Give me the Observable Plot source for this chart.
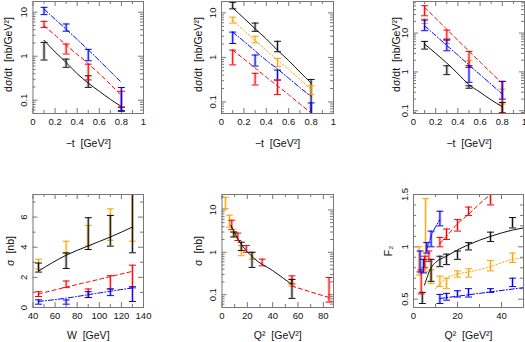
<!DOCTYPE html>
<html><head><meta charset="utf-8">
<script src="https://cdn.jsdelivr.net/npm/d3@7"></script>
<script src="https://cdn.jsdelivr.net/npm/@observablehq/plot@0.6"></script>
<style>
body{margin:0;background:#fff}
#c{position:relative;width:525px;height:342px;overflow:hidden}
#c svg{position:absolute;overflow:visible}
</style></head><body><div id="c"></div>
<script>
// ---------- data ----------
const tVals = [0.1, 0.3, 0.5, 0.8];
const fitT = [0.1, 0.2, 0.3, 0.4, 0.5, 0.6, 0.7, 0.8];
// panel 1
const p1BlackLo = [0.82, 0.56, 0.196, 0.056], p1BlackHi = [2.06, 0.86, 0.36, 0.069];
const p1RedLo = [4.5, 1.12, 0.29, 0.07], p1RedHi = [6.2, 1.89, 0.66, 0.16];
const p1BlueLo = [8.8, 3.7, 0.79, 0.058], p1BlueHi = [12.9, 5.4, 1.43, 0.195];
const p1BlackFit = [2.3, 1.25, 0.72, 0.4, 0.245, 0.16, 0.105, 0.072];
const p1RedFit = [4.9, 3.0, 1.8, 1.1, 0.68, 0.4, 0.23, 0.126];
const p1BlueFit = [11.8, 6.9, 4.1, 2.4, 1.4, 0.8, 0.45, 0.254];
// panel 2
const p2BlackLo = [12.3, 3.85, 1.34, 0.04], p2BlackHi = [17.3, 5.9, 2.3, 0.32];
const p2OrangeLo = [5.9, 2.12, 0.62, 0.146], p2OrangeHi = [8.0, 2.98, 0.95, 0.23];
const p2BlueLo = [2.05, 0.64, 0.31, 0.04], p2BlueHi = [3.7, 1.13, 0.52, 0.095];
const p2RedT = [0.1, 0.3, 0.5];
const p2RedLo = [0.68, 0.24, 0.146], p2RedHi = [1.46, 0.44, 0.31];
const p2BlackFit = [12.9, 7.6, 4.4, 2.6, 1.45, 0.85, 0.47, 0.264];
const p2OrangeFit = [6.76, 4.0, 2.4, 1.45, 0.87, 0.53, 0.32, 0.194];
const p2BlueFit = [3.7, 2.3, 1.4, 0.86, 0.55, 0.34, 0.21, 0.134];
const p2RedFit = [1.46, 0.92, 0.58, 0.36, 0.23, 0.145, 0.09, 0.057];
// panel 3
const p3RedLo = [27.9, 7.0, 1.3, 0.09], p3RedHi = [50.6, 11.9, 3.37, 0.57];
const p3OrangeLo = [17.7, 5.4, 1.3, 0.149], p3OrangeHi = [23, 7.0, 1.94, 0.36];
const p3BlueLo = [11.5, 3.5, 0.54, 0.2], p3BlueHi = [21.6, 6.6, 1.44, 0.57];
const p3BlackLo = [3.87, 0.85, 0.38, 0.082], p3BlackHi = [6.1, 1.44, 0.44, 0.164];
const p3RedFit = [45.8, 24, 12.5, 6.5, 3.4, 1.8, 0.95, 0.51];
const p3BlueFit = [15.4, 8.6, 4.8, 2.7, 1.5, 0.85, 0.48, 0.27];
const p3BlackFit = [5.2, 3.0, 1.69, 0.9, 0.47, 0.3, 0.19, 0.127];
// panel 4
const wVals = [45, 70, 90, 110, 130];
const p4BlackLo = [2.35, 2.59, 3.85, 4.07, 3.63], p4BlackHi = [2.95, 3.63, 5.96, 6.11, 8];
const p4OrangeLo = [2.55, 3.58, 4.09, 4.46, 4.4], p4OrangeHi = [3.2, 4.4, 5.45, 6.55, 8];
const p4RedLo = [0.73, 1.32, 0.66, 1.23, 1.3], p4RedHi = [1.05, 1.76, 1.23, 2.11, 2.81];
const p4BlueLo = [0.22, 0.22, 0.66, 0.79, 0.4], p4BlueHi = [0.51, 0.5, 1.05, 1.23, 1.38];
const p4BlackFit = [2.42, 3.47, 4.09, 4.68, 5.34];
const p4RedFit = [0.9, 1.35, 1.7, 2.05, 2.4];
const p4BlueFit = [0.4, 0.62, 0.85, 1.08, 1.3];
// panel 5
const p5OrangeQ = [2.7, 5.9, 9.3, 15.2, 23.7, 55.2];
const p5OrangeLo = [10.7, 3.9, 2.3, 0.83, 0.69, 0.16], p5OrangeHi = [19.7, 7.5, 3.0, 1.44, 1.0, 0.23];
const p5RedQ = [7.7, 12.5, 19.2, 31.7, 55.2, 84.5];
const p5RedLo = [3.4, 1.9, 1.0, 0.48, 0.18, 0.067], p5RedHi = [5.7, 2.83, 1.44, 0.69, 0.278, 0.254];
const p5BlackQ = [9.3, 15.2, 23.7, 55.2];
const p5BlackLo = [2.3, 1.1, 0.44, 0.082], p5BlackHi = [3.0, 1.73, 1.0, 0.23];
const p5BlackFitQ = [7, 15, 25, 40, 55];
const p5BlackFit = [4.3, 1.58, 0.73, 0.37, 0.176];
const p5RedFitQ = [55, 85];
const p5RedFit = [0.16, 0.085];
// panel 6
const p6RedQ = [3.5, 5, 7, 12, 15, 20, 25, 35];
const p6RedLo = [0.55, 0.8, 0.86, 1.0, 1.07, 1.15, 1.3, 1.4], p6RedHi = [0.78, 0.91, 0.96, 1.09, 1.17, 1.26, 1.38, 1.5];
const p6BlackQ = [4, 8, 12, 15, 20, 25, 35, 45];
const p6BlackLo = [0.458, 0.67, 0.81, 0.83, 0.88, 0.97, 1.05, 1.18], p6BlackHi = [0.565, 0.88, 0.91, 0.93, 0.96, 1.04, 1.14, 1.28];
const p6OrangeQ = [2.5, 5.5, 8, 12, 15, 20, 25, 35, 45];
const p6OrangeLo = [0.73, 0.76, 0.65, 0.62, 0.6, 0.71, 0.71, 0.77, 0.85], p6OrangeHi = [1.0, 1.46, 0.78, 0.72, 0.7, 0.77, 0.79, 0.87, 0.94];
const p6BlueAQ = [3, 4.5, 6, 8, 12];
const p6BlueALo = [0.76, 0.75, 0.94, 1.0, 1.2], p6BlueAHi = [0.96, 0.88, 1.04, 1.15, 1.34];
const p6BlueBQ = [12, 15, 20, 25, 35, 45];
const p6BlueBLo = [0.458, 0.49, 0.52, 0.52, 0.565, 0.62], p6BlueBHi = [0.545, 0.555, 0.58, 0.6, 0.6, 0.7];
const p6RedFitQ = [12, 15, 20, 25, 30, 35];
const p6RedFit = [1.03, 1.10, 1.22, 1.31, 1.41, 1.5];
const p6BlackFitQ = [5, 8, 10, 15, 20, 25, 35, 45, 50];
const p6BlackFit = [0.635, 0.8, 0.85, 0.91, 0.97, 1.02, 1.1, 1.16, 1.18];
const p6OrangeFitQ = [10, 15, 20, 25, 35, 45, 50];
const p6OrangeFit = [0.6, 0.7, 0.74, 0.76, 0.81, 0.88, 0.89];
const p6BlueAFitQ = [6, 8, 12];
const p6BlueAFit = [0.98, 1.1, 1.26];
const p6BlueBFitQ = [12, 50];
const p6BlueBFit = [0.506, 0.61];

// tick labels
const tTicks = [0, 0.2, 0.4, 0.6, 0.8, 1];
const tMinor = [0.1, 0.3, 0.5, 0.7, 0.9];
const logMajor = [0.1, 1, 10];
const wTicks = [40, 60, 80, 100, 120, 140];
const wMinor = [50, 70, 90, 110, 130];
const sigTicks = [0, 2, 4, 6];
const sigMinor = [1, 3, 5, 7];
const q5Ticks = [0, 20, 40, 60, 80];
const q5Minor = [10, 30, 50, 70];
const q6Ticks = [0, 20, 40];
const q6Minor = [10, 30, 50];
const f2Ticks = [0.5, 1, 1.5];
const f2Minor = [0.6, 0.7, 0.8, 0.9, 1.1, 1.2, 1.3, 1.4];

const COL = {black: "#111", red: "#ff0000", blue: "#0000ff", orange: "#ffa500"};
const DASH = {solid: null, dashed: "4,3", dashdot: "5,2,1,2", dotted: "1.5,2"};
const FONT = "'Liberation Sans', Arial, Helvetica, sans-serif";
const TICKC = "#777";

function logMinor(lo, hi) {
  const out = [];
  for (let e = Math.floor(Math.log10(lo)); e <= Math.ceil(Math.log10(hi)); e++)
    for (const k of [2,3,4,5,6,7,8,9]) { const v = k * Math.pow(10, e); if (v > lo && v < hi) out.push(v); }
  return out;
}

const cap = {draw(ctx, size) { const r = Math.sqrt(size / Math.PI); ctx.moveTo(-r, 0); ctx.lineTo(r, 0); }};

function panel(cfg) {
  const W = 175, H = 171;
  const m = cfg.m;
  const iw = W - m.l - m.r, ih = H - m.t - m.b;
  const marks = [];
  const xMinor = cfg.x.minor, yMinor = cfg.y.type === "log" ? logMinor(cfg.y.domain[0], cfg.y.domain[1]) : cfg.y.minor;
  for (const [arr, L] of [[cfg.x.ticks, 5], [xMinor, 3]]) {
    marks.push(Plot.tickX(arr, {x: d => d, insetTop: ih - L, stroke: TICKC}));
    marks.push(Plot.tickX(arr, {x: d => d, insetBottom: ih - L, stroke: TICKC}));
  }
  for (const [arr, L] of [[cfg.y.ticks, 5], [yMinor, 3]]) {
    marks.push(Plot.tickY(arr, {y: d => d, insetRight: iw - L, stroke: TICKC}));
    marks.push(Plot.tickY(arr, {y: d => d, insetLeft: iw - L, stroke: TICKC}));
  }
  for (const s of cfg.series) {
    const idx = d3.range(s.x.length);
    const X = i => s.x[i];
    marks.push(Plot.ruleX(idx, {x: X, y1: i => s.lo[i], y2: i => s.hi[i], stroke: COL[s.c], strokeWidth: 3, strokeOpacity: 0.25, clip: true}));
    marks.push(Plot.ruleX(idx, {x: X, y1: i => s.lo[i], y2: i => s.hi[i], stroke: COL[s.c], strokeWidth: 1, clip: true}));
    marks.push(Plot.dot(idx, {x: X, y: i => s.lo[i], symbol: cap, r: 3.5, stroke: COL[s.c], fill: "none", strokeWidth: 1, clip: true}));
    marks.push(Plot.dot(idx, {x: X, y: i => s.hi[i], symbol: cap, r: 3.5, stroke: COL[s.c], fill: "none", strokeWidth: 1, clip: true}));
  }
  for (const f of cfg.fits) {
    const idx = d3.range(f.x.length);
    marks.push(Plot.line(idx, {x: i => f.x[i], y: i => f.y[i], stroke: COL[f.c], strokeDasharray: DASH[f.d], strokeWidth: 1, curve: "monotone-x", clip: true}));
  }
  marks.push(Plot.frame({stroke: TICKC, strokeWidth: 1}));
  marks.push(Plot.axisX(cfg.x.ticks, {tickSize: 0, tickPadding: 5, tickFormat: d => String(d), label: null, fontSize: 9.5}));
  marks.push(Plot.axisY(cfg.y.ticks, {tickSize: 0, tickPadding: cfg.yPad ?? 6, tickRotate: -90, tickFormat: d => String(d), label: null, fontSize: 9.5}));
  marks.push(Plot.text([cfg.xLabel], {text: d => d, frameAnchor: "bottom", dy: cfg.xLabelDy ?? 30, fontSize: 10.5, textAnchor: "middle", lineAnchor: "middle"}));
  marks.push(Plot.text([cfg.yLabel], {text: d => d, frameAnchor: "left", dx: cfg.yLabelDx, dy: cfg.yLabelDy ?? 0, rotate: -90, fontSize: 10.5, textAnchor: "middle", lineAnchor: "middle"}));
  const svg = Plot.plot({
    width: W, height: H,
    marginLeft: m.l, marginRight: m.r, marginTop: m.t, marginBottom: m.b,
    x: {type: "linear", domain: cfg.x.domain, axis: null},
    y: {type: cfg.y.type, domain: cfg.y.domain, axis: null},
    style: {fontFamily: FONT, fontSize: "9.5px", color: "#111", background: "transparent"},
    marks
  });
  svg.style.left = cfg.left + "px";
  svg.style.top = cfg.top + "px";
  document.getElementById("c").appendChild(svg);
}

const dsdtLabel = "dσ/dt  [nb/GeV²]";
const tLabel = "−t  [GeV²]";

panel({left: 0, top: 0, m: {l: 32.5, r: 32, t: 1, b: 58},
  x: {domain: [0, 1], ticks: tTicks, minor: tMinor},
  y: {type: "log", domain: [0.05, 17.5], ticks: logMajor},
  xLabel: tLabel, yLabel: dsdtLabel, yLabelDx: -24.5, yLabelDy: -3,
  series: [
    {x: tVals, lo: p1BlackLo, hi: p1BlackHi, c: "black"},
    {x: tVals, lo: p1RedLo, hi: p1RedHi, c: "red"},
    {x: tVals, lo: p1BlueLo, hi: p1BlueHi, c: "blue"}],
  fits: [
    {x: fitT, y: p1BlackFit, c: "black", d: "solid"},
    {x: fitT, y: p1RedFit, c: "red", d: "dashed"},
    {x: fitT, y: p1BlueFit, c: "blue", d: "dashdot"}]
});
panel({left: 175, top: 0, m: {l: 46, r: 17, t: 1, b: 58},
  x: {domain: [0, 1], ticks: tTicks, minor: tMinor},
  y: {type: "log", domain: [0.055, 18], ticks: logMajor},
  xLabel: tLabel, yLabel: dsdtLabel, yLabelDx: -23, yLabelDy: -3,
  series: [
    {x: tVals, lo: p2BlackLo, hi: p2BlackHi, c: "black"},
    {x: tVals, lo: p2OrangeLo, hi: p2OrangeHi, c: "orange"},
    {x: tVals, lo: p2BlueLo, hi: p2BlueHi, c: "blue"},
    {x: p2RedT, lo: p2RedLo, hi: p2RedHi, c: "red"}],
  fits: [
    {x: fitT, y: p2BlackFit, c: "black", d: "solid"},
    {x: fitT, y: p2OrangeFit, c: "orange", d: "dotted"},
    {x: fitT, y: p2BlueFit, c: "blue", d: "dashdot"},
    {x: fitT, y: p2RedFit, c: "red", d: "dashed"}]
});
panel({left: 350, top: 0, m: {l: 63, r: 1, t: 1, b: 58},
  x: {domain: [0, 1], ticks: tTicks, minor: tMinor},
  y: {type: "log", domain: [0.085, 65], ticks: logMajor},
  xLabel: tLabel, yLabel: dsdtLabel, yLabelDx: -17, yLabelDy: -3,
  series: [
    {x: tVals, lo: p3OrangeLo, hi: p3OrangeHi, c: "orange"},
    {x: tVals, lo: p3RedLo, hi: p3RedHi, c: "red"},
    {x: tVals, lo: p3BlueLo, hi: p3BlueHi, c: "blue"},
    {x: tVals, lo: p3BlackLo, hi: p3BlackHi, c: "black"}],
  fits: [
    {x: fitT, y: p3RedFit, c: "red", d: "dashed"},
    {x: fitT, y: p3BlueFit, c: "blue", d: "dashdot"},
    {x: fitT, y: p3BlackFit, c: "black", d: "solid"}]
});
panel({left: 0, top: 171, m: {l: 32.5, r: 32, t: 23, b: 35},
  x: {domain: [40, 140], ticks: wTicks, minor: wMinor},
  y: {type: "linear", domain: [0, 7.5], ticks: sigTicks, minor: sigMinor},
  xLabel: "W  [GeV]", xLabelDy: 28, yLabel: "σ  [nb]", yLabelDx: -22.5,
  series: [
    {x: wVals, lo: p4OrangeLo, hi: p4OrangeHi, c: "orange"},
    {x: wVals, lo: p4BlackLo, hi: p4BlackHi, c: "black"},
    {x: wVals, lo: p4RedLo, hi: p4RedHi, c: "red"},
    {x: wVals, lo: p4BlueLo, hi: p4BlueHi, c: "blue"}],
  fits: [
    {x: wVals, y: p4BlackFit, c: "black", d: "solid"},
    {x: wVals, y: p4RedFit, c: "red", d: "dashed"},
    {x: wVals, y: p4BlueFit, c: "blue", d: "dashdot"}]
});
panel({left: 175, top: 171, m: {l: 46.5, r: 17, t: 23, b: 35},
  x: {domain: [0, 88], ticks: q5Ticks, minor: q5Minor},
  y: {type: "log", domain: [0.05, 23], ticks: logMajor},
  xLabel: "Q²  [GeV²]", xLabelDy: 28, yLabel: "σ  [nb]", yLabelDx: -23.5,
  series: [
    {x: p5OrangeQ, lo: p5OrangeLo, hi: p5OrangeHi, c: "orange"},
    {x: p5RedQ, lo: p5RedLo, hi: p5RedHi, c: "red"},
    {x: p5BlackQ, lo: p5BlackLo, hi: p5BlackHi, c: "black"}],
  fits: [
    {x: p5RedFitQ, y: p5RedFit, c: "red", d: "dashed"},
    {x: p5BlackFitQ, y: p5BlackFit, c: "black", d: "solid"}]
});
panel({left: 350, top: 171, m: {l: 63, r: 2, t: 23, b: 35},
  x: {domain: [0, 50], ticks: q6Ticks, minor: q6Minor},
  y: {type: "linear", domain: [0.42, 1.5], ticks: f2Ticks, minor: f2Minor},
  xLabel: "Q²  [GeV²]", xLabelDy: 28, yLabel: "F₂", yLabelDx: -25,
  series: [
    {x: p6OrangeQ, lo: p6OrangeLo, hi: p6OrangeHi, c: "orange"},
    {x: p6BlackQ, lo: p6BlackLo, hi: p6BlackHi, c: "black"},
    {x: p6RedQ, lo: p6RedLo, hi: p6RedHi, c: "red"},
    {x: p6BlueAQ, lo: p6BlueALo, hi: p6BlueAHi, c: "blue"},
    {x: p6BlueBQ, lo: p6BlueBLo, hi: p6BlueBHi, c: "blue"}],
  fits: [
    {x: p6RedFitQ, y: p6RedFit, c: "red", d: "dashed"},
    {x: p6BlackFitQ, y: p6BlackFit, c: "black", d: "solid"},
    {x: p6OrangeFitQ, y: p6OrangeFit, c: "orange", d: "dotted"},
    {x: p6BlueAFitQ, y: p6BlueAFit, c: "blue", d: "dashdot"},
    {x: p6BlueBFitQ, y: p6BlueBFit, c: "blue", d: "dashdot"}]
});
</script></body></html>
